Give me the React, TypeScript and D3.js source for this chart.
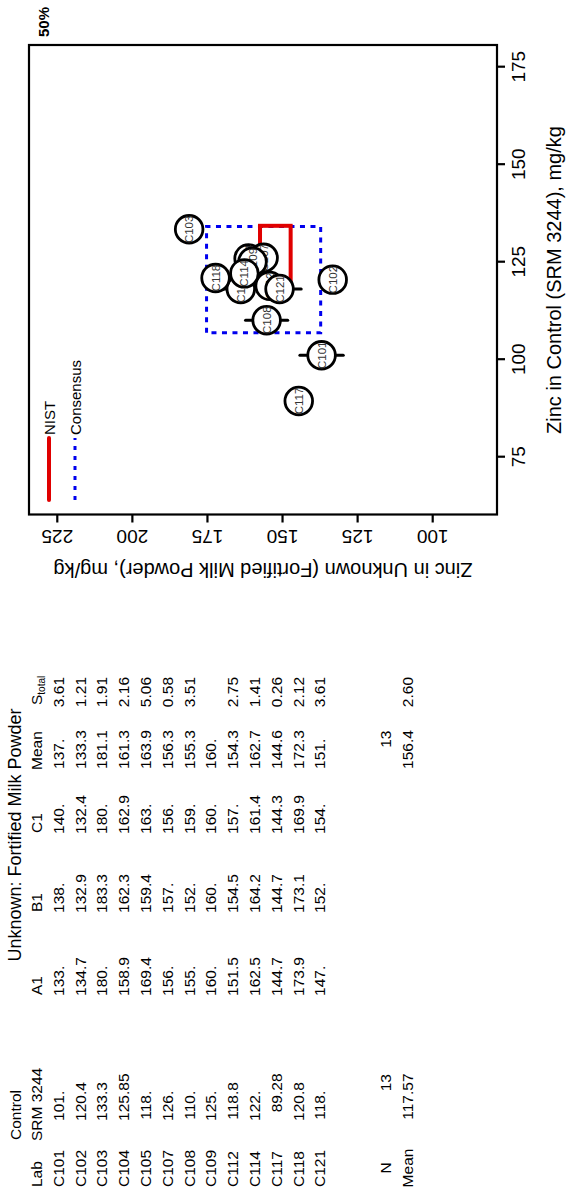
import React from 'react';
import * as d3 from 'd3';

const labs = ['C101','C102','C103','C104','C105','C107','C108','C109','C112','C114','C117','C118','C121'];
const controlVals = ['101.','120.4','133.3','125.85','118.','126.','110.','125.','118.8','122.','89.28','120.8','118.'];
const a1Vals = ['133.','134.7','180.','158.9','169.4','156.','155.','160.','151.5','162.5','144.7','173.9','147.'];
const b1Vals = ['138.','132.9','183.3','162.3','159.4','157.','152.','160.','154.5','164.2','144.7','173.1','152.'];
const c1Vals = ['140.','132.4','180.','162.9','163.','156.','159.','160.','157.','161.4','144.3','169.9','154.'];
const meanVals = ['137.','133.3','181.1','161.3','163.9','156.3','155.3','160.','154.3','162.7','144.6','172.3','151.'];
const sTotalVals = ['3.61','1.21','1.91','2.16','5.06','0.58','3.51','','2.75','1.41','0.26','2.12','3.61'];

const nControl = '13';
const nUnknown = '13';
const meanControl = '117.57';
const meanUnknown = '156.4';
const meanSTotal = '2.60';

const xTicks = [75, 100, 125, 150, 175];
const yTicks = [100, 125, 150, 175, 200, 225];
const xDomain = [60.18, 180.56];
const yDomain = [78.59, 234.42];

const nistControl = [117.0, 134.2];
const nistUnknown = [147.3, 157.5];
const consensusControl = [106.8, 134.0];
const consensusUnknown = [137.3, 175.3];

const W = 570;
const H = 1193;
const FONT = '"Liberation Sans", Arial, Helvetica, sans-serif';

function DecNum({ s, x, y }: { s: string; x: number; y: number }) {
  if (!s) return null;
  const i = s.indexOf('.');
  const intPart = i >= 0 ? s.slice(0, i) : s;
  const frac = i >= 0 ? s.slice(i) : '';
  return (
    <g>
      <text x={x} y={y} textAnchor="end">{intPart}</text>
      {frac && <text x={x} y={y} textAnchor="start">{frac}</text>}
    </g>
  );
}

export default function App() {
  const x = d3.scaleLinear().domain(xDomain).range([678.5, 1148]);
  const y = d3.scaleLinear().domain(yDomain).range([497, 29]);

  const rowY = (i: number) => 63.8 + i * 21.8;
  const hdr1 = 20.5;
  const hdr2 = 42;
  const nRowY = 390.8;
  const meanRowY = 412.6;

  const colDec = { control: 98, a1: 223, b1: 306, c1: 385, mean: 450, s: 494.5 };

  const pts = labs.map((lab, i) => ({
    lab,
    cx: parseFloat(controlVals[i]),
    cy: parseFloat(meanVals[i]),
    s: sTotalVals[i] === '' ? null : parseFloat(sTotalVals[i]),
  }));

  return (
    <svg width={W} height={H} style={{ position: 'absolute', left: 0, top: 0, background: '#fff' }} fontFamily={FONT}>
      <rect x={0} y={0} width={W} height={H} fill="#fff" />
      <g transform={`translate(0,${H}) rotate(-90)`}>
        {/* ---------- Table ---------- */}
        <g fontSize={15.5} fill="#000">
          <text x={53} y={hdr1}>Control</text>
          <text x={358} y={hdr1} textAnchor="middle" fontSize={18}>Unknown: Fortified Milk Powder</text>
          <text x={6} y={hdr2}>Lab</text>
          <text x={52} y={hdr2}>SRM 3244</text>
          <text x={198} y={hdr2}>A1</text>
          <text x={281} y={hdr2}>B1</text>
          <text x={360} y={hdr2}>C1</text>
          <text x={423} y={hdr2}>Mean</text>
          <text x={488} y={hdr2}>S<tspan fontSize={10} dy={3}>total</tspan></text>
          {labs.map((lab, i) => (
            <g key={lab}>
              <text x={6} y={rowY(i)}>{lab}</text>
              <DecNum s={controlVals[i]} x={colDec.control} y={rowY(i)} />
              <DecNum s={a1Vals[i]} x={colDec.a1} y={rowY(i)} />
              <DecNum s={b1Vals[i]} x={colDec.b1} y={rowY(i)} />
              <DecNum s={c1Vals[i]} x={colDec.c1} y={rowY(i)} />
              <DecNum s={meanVals[i]} x={colDec.mean} y={rowY(i)} />
              <DecNum s={sTotalVals[i]} x={colDec.s} y={rowY(i)} />
            </g>
          ))}
          <text x={25} y={nRowY} textAnchor="middle">N</text>
          <text x={25} y={meanRowY} textAnchor="middle">Mean</text>
          <text x={119} y={nRowY} textAnchor="end">{nControl}</text>
          <DecNum s={meanControl} x={colDec.control} y={meanRowY} />
          <text x={462.5} y={nRowY} textAnchor="end">{nUnknown}</text>
          <DecNum s={meanUnknown} x={colDec.mean} y={meanRowY} />
          <DecNum s={meanSTotal} x={colDec.s} y={meanRowY} />
        </g>

        {/* ---------- Plot ---------- */}
        <rect x={x(consensusControl[0])} y={y(consensusUnknown[1])}
          width={x(consensusControl[1]) - x(consensusControl[0])}
          height={y(consensusUnknown[0]) - y(consensusUnknown[1])}
          fill="none" stroke="#0000ee" strokeWidth={3} strokeDasharray="5,5.5" />
        <rect x={x(nistControl[0])} y={y(nistUnknown[1])}
          width={x(nistControl[1]) - x(nistControl[0])}
          height={y(nistUnknown[0]) - y(nistUnknown[1])}
          fill="none" stroke="#e00000" strokeWidth={4} />
        {pts.filter(p => p.s !== null).map(p => (
          <line key={'e' + p.lab} x1={x(p.cx)} x2={x(p.cx)} y1={y(p.cy - 2 * (p.s as number))} y2={y(p.cy + 2 * (p.s as number))}
            stroke="#000" strokeWidth={3} strokeLinecap="round" />
        ))}
        {pts.map(p => (
          <g key={'c' + p.lab}>
            <circle cx={x(p.cx)} cy={y(p.cy)} r={13.8} fill="#fff" stroke="#000" strokeWidth={2.8} />
            <text x={x(p.cx)} y={y(p.cy)} dy="0.35em" textAnchor="middle" fontSize={11.5} fill="#333">{p.lab}</text>
          </g>
        ))}
        <rect x={678.5} y={29} width={1148 - 678.5} height={497 - 29} fill="none" stroke="#000" strokeWidth={2.2} />
        {xTicks.map(t => (
          <g key={'xt' + t}>
            <line x1={x(t)} x2={x(t)} y1={497} y2={505} stroke="#000" strokeWidth={2.2} />
            <text x={x(t)} y={525} textAnchor="middle" fontSize={19}>{t}</text>
          </g>
        ))}
        <text x={913} y={561} textAnchor="middle" fontSize={20}>Zinc in Control (SRM 3244), mg/kg</text>
        {yTicks.map(t => (
          <g key={'yt' + t}>
            <line x1={678.5} x2={670.5} y1={y(t)} y2={y(t)} stroke="#000" strokeWidth={2.2} />
            <text transform={`translate(663,${y(t)}) rotate(-90)`} textAnchor="middle" fontSize={19}>{t}</text>
          </g>
        ))}
        <text transform={`translate(630,263) rotate(-90)`} textAnchor="middle" fontSize={20}>Zinc in Unknown (Fortified Milk Powder), mg/kg</text>
        <line x1={693} x2={755} y1={49} y2={49} stroke="#e00000" strokeWidth={4} strokeLinecap="round" />
        <text x={758} y={54.5} fontSize={15}>NIST</text>
        <line x1={693} x2={755} y1={75} y2={75} stroke="#0000ee" strokeWidth={3} strokeDasharray="4,6" />
        <text x={758} y={80.5} fontSize={15}>Consensus</text>
        <text x={1156} y={49} fontSize={15} fontWeight="bold">50%</text>
      </g>
    </svg>
  );
}
